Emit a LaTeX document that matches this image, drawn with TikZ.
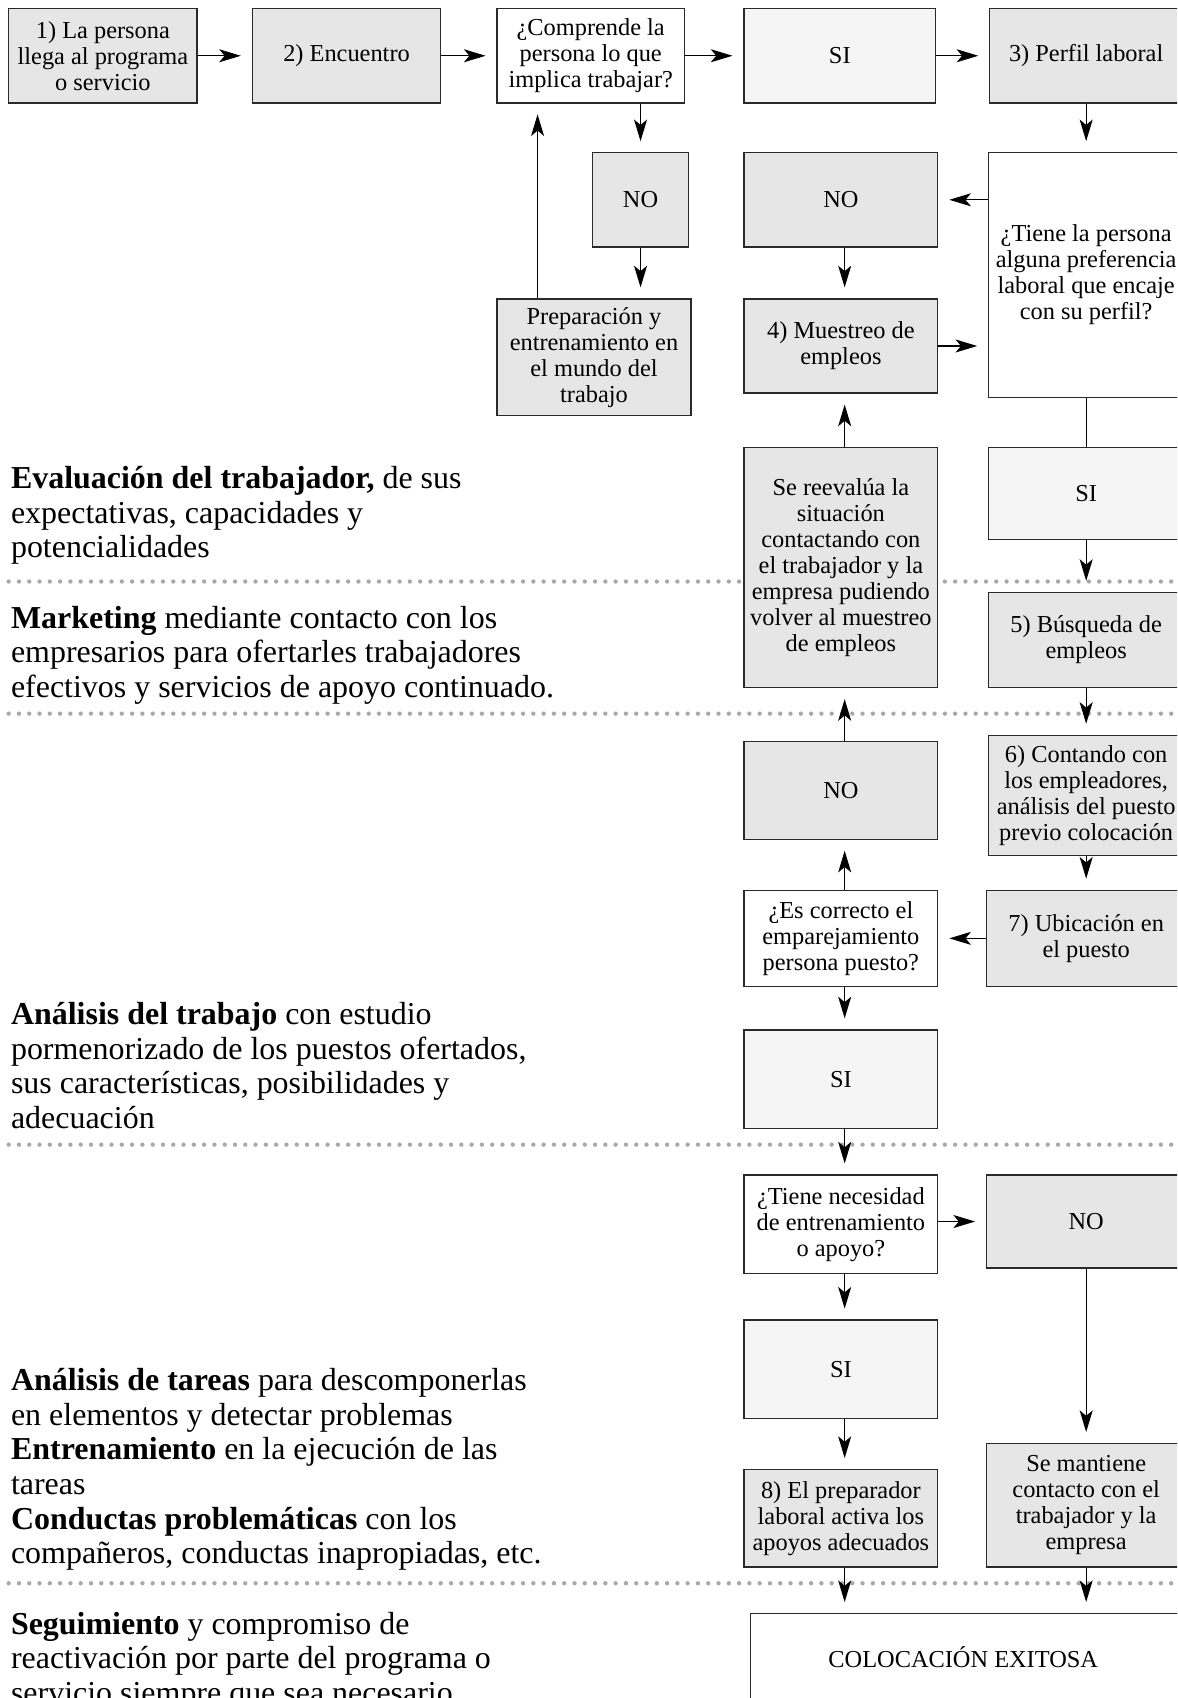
\documentclass[tikz,border=0pt]{standalone}
\usepackage{fontspec}
\setmainfont{Liberation Serif}
\usetikzlibrary{arrows.meta}
\definecolor{boxgray}{HTML}{E6E6E6}
\definecolor{boxlight}{HTML}{F5F5F5}
\definecolor{dotgray}{HTML}{A8A8A8}
\definecolor{edgecol}{HTML}{2A2A2A}
\newcommand{\boxfont}{\fontsize{22.5}{24}\selectfont\lineskiplimit=-20pt}
\newcommand{\sidefont}{\fontsize{29.5}{32}\selectfont}
\begin{document}
\begin{tikzpicture}[x=1pt,y=-1pt,
  flowbox/.style={draw=edgecol, line width=1.2pt, align=center, inner sep=2pt, font=\boxfont},
  gbox/.style={flowbox, fill=boxgray},
  lbox/.style={flowbox, fill=boxlight},
  wbox/.style={flowbox, fill=white},
  arr/.style={-{Stealth[length=20pt,width=12pt,inset=5pt]}, line width=1.2pt, shorten >=10pt},
  plainline/.style={line width=1.2pt},
  dotline/.style={dotgray, line width=4pt, line cap=round, dash pattern=on 0pt off 9.5pt},
  sidetext/.style={anchor=base west, inner sep=0pt, font=\sidefont}
]
\useasboundingbox (0,0) rectangle (1087,1568);
\clip (0,0) rectangle (1087,1568);
\fill[white] (0,0) rectangle (1087,1568);

% dotted separators
\draw[dotline] (8,537) -- (1100,537);
\draw[dotline] (8,659) -- (1100,659);
\draw[dotline] (8,1057) -- (1100,1057);
\draw[dotline] (8,1462) -- (1100,1462);

% left side texts
\node[sidetext] (ev1) at (10,451) {\textbf{Evaluación del trabajador,} de sus};
\node[sidetext] (ev2) at (10,483) {expectativas, capacidades y};
\node[sidetext] (ev3) at (10,515) {potencialidades};
\node[sidetext] (mk1) at (10,580) {\textbf{Marketing} mediante contacto con los};
\node[sidetext] (mk2) at (10,612) {empresarios para ofertarles trabajadores};
\node[sidetext] (mk3) at (10,644) {efectivos y servicios de apoyo continuado.};
\node[sidetext] (at1) at (10,946) {\textbf{Análisis del trabajo} con estudio};
\node[sidetext] (at2) at (10,978) {pormenorizado de los puestos ofertados,};
\node[sidetext] (at3) at (10,1010) {sus características, posibilidades y};
\node[sidetext] (at4) at (10,1042) {adecuación};
\node[sidetext] (ta1) at (10,1284) {\textbf{Análisis de tareas} para descomponerlas};
\node[sidetext] (ta2) at (10,1316) {en elementos y detectar problemas};
\node[sidetext] (ta3) at (10,1348) {\textbf{Entrenamiento} en la ejecución de las};
\node[sidetext] (ta4) at (10,1380) {tareas};
\node[sidetext] (ta5) at (10,1412) {\textbf{Conductas problemáticas} con los};
\node[sidetext] (ta6) at (10,1444) {compañeros, conductas inapropiadas, etc.};
\node[sidetext] (sg1) at (10,1509) {\textbf{Seguimiento} y compromiso de};
\node[sidetext] (sg2) at (10,1541) {reactivación por parte del programa o};
\node[sidetext] (sg3) at (10,1573) {servicio siempre que sea necesario.};

% top row
\node[gbox, minimum width=174pt, minimum height=87pt] (b1) at (95,51.5) {1) La persona\\llega al programa\\o servicio};
\node[gbox, minimum width=174pt, minimum height=87pt] (b2) at (320,51.5) {2) Encuentro};
\node[wbox, minimum width=173pt, minimum height=87pt] (q1) at (545.5,51.5) {¿Comprende la\\persona lo que\\implica trabajar?};
\node[lbox, minimum width=177pt, minimum height=87pt] (si1) at (775.5,51.5) {SI};
\node[gbox, minimum width=178pt, minimum height=87pt] (perfil) at (1003,51.5) {3) Perfil laboral};

% second band
\node[gbox, minimum width=89pt, minimum height=87pt] (no1) at (591.5,184.5) {NO};
\node[gbox, minimum width=179pt, minimum height=87pt] (no2) at (776.5,184.5) {NO};
\node[wbox, minimum width=180pt, minimum height=226pt] (tiene) at (1003,254) {¿Tiene la persona\\alguna preferencia\\laboral que encaje\\con su perfil?};
\node[gbox, minimum width=179pt, minimum height=108pt] (prep) at (548.5,330) {Preparación y\\entrenamiento en\\el mundo del\\trabajo};
\node[gbox, minimum width=179pt, minimum height=87pt] (muest) at (776.5,319.5) {4) Muestreo de\\empleos};

% middle
\node[gbox, minimum width=179pt, minimum height=222pt] (reeval) at (776.5,524) {Se reevalúa la\\situación\\contactando con\\el trabajador y la\\empresa pudiendo\\volver al muestreo\\de empleos};
\node[lbox, minimum width=180pt, minimum height=85pt] (si2) at (1003,455.5) {SI};
\node[gbox, minimum width=180pt, minimum height=88pt] (busq) at (1003,591) {5) Búsqueda de\\empleos};
\node[gbox, minimum width=179pt, minimum height=90pt] (no3) at (776.5,730) {NO};
\node[gbox, minimum width=180pt, minimum height=111pt] (cont) at (1003,734.5) {6) Contando con\\los empleadores,\\análisis del puesto\\previo colocación};
\node[wbox, minimum width=179pt, minimum height=89pt] (escorr) at (776.5,866.5) {¿Es correcto el\\emparejamiento\\persona puesto?};
\node[gbox, minimum width=184pt, minimum height=89pt] (ubic) at (1003,866.5) {7) Ubicación en\\el puesto};

% lower
\node[lbox, minimum width=179pt, minimum height=91pt] (si3) at (776.5,996.5) {SI};
\node[wbox, minimum width=179pt, minimum height=91pt] (tnec) at (776.5,1130.5) {¿Tiene necesidad\\de entrenamiento\\o apoyo?};
\node[gbox, minimum width=184pt, minimum height=86pt] (no4) at (1003,1128) {NO};
\node[lbox, minimum width=179pt, minimum height=91pt] (si4) at (776.5,1264.5) {SI};
\node[gbox, minimum width=179pt, minimum height=90pt] (acti) at (776.5,1402) {8) El preparador\\laboral activa los\\apoyos adecuados};
\node[gbox, minimum width=184pt, minimum height=114pt] (mant) at (1003,1390) {Se mantiene\\contacto con el\\trabajador y la\\empresa};
\node[wbox, minimum width=407pt, minimum height=80pt] (coloc) at (896.5,1530) {COLOCACIÓN EXITOSA\hspace*{14pt}};

% connectors
\draw[arr] (b1) -- (b2);
\draw[arr] (b2) -- (q1);
\draw[arr] (q1) -- (si1);
\draw[arr] (si1) -- (perfil);
\draw[arr] (perfil) -- (tiene);
\draw[arr] (q1.south -| no1.north) -- (no1.north);
\draw[arr] (no1.south) -- (no1.south |- prep.north);
\draw[arr] ([xshift=38pt]prep.north west) -- ([xshift=38pt]prep.north west |- q1.south);
\draw[arr] (tiene.west |- no2.east) -- (no2.east);
\draw[arr] ([xshift=3.5pt]no2.south) -- ([xshift=3.5pt]muest.north);
\draw[arr] (muest.east) -- (muest.east -| tiene.west);
\draw[plainline] (tiene.south) -- (si2.north);
\draw[arr] ([xshift=3.5pt]reeval.north) -- ([xshift=3.5pt]muest.south);
\draw[arr] (si2) -- (busq);
\draw[arr] (busq) -- (cont);
\draw[arr] (cont) -- (ubic);
\draw[arr] (ubic) -- (escorr);
\draw[arr] ([xshift=3.5pt]escorr.north) -- ([xshift=3.5pt]no3.south);
\draw[arr] ([xshift=3.5pt]no3.north) -- ([xshift=3.5pt]reeval.south);
\draw[arr] ([xshift=3.5pt]escorr.south) -- ([xshift=3.5pt]si3.north);
\draw[arr] ([xshift=3.5pt]si3.south) -- ([xshift=3.5pt]tnec.north);
\draw[arr] (tnec.east |- no4.west) -- (no4.west);
\draw[arr] ([xshift=3.5pt]tnec.south) -- ([xshift=3.5pt]si4.north);
\draw[arr] ([xshift=3.5pt]si4.south) -- ([xshift=3.5pt]acti.north);
\draw[arr] (no4) -- (mant);
\draw[arr] ([xshift=3.5pt]acti.south) -- ([xshift=3.5pt]acti.south |- coloc.north);
\draw[arr] (mant.south) -- (mant.south |- coloc.north);
\end{tikzpicture}
\end{document}
